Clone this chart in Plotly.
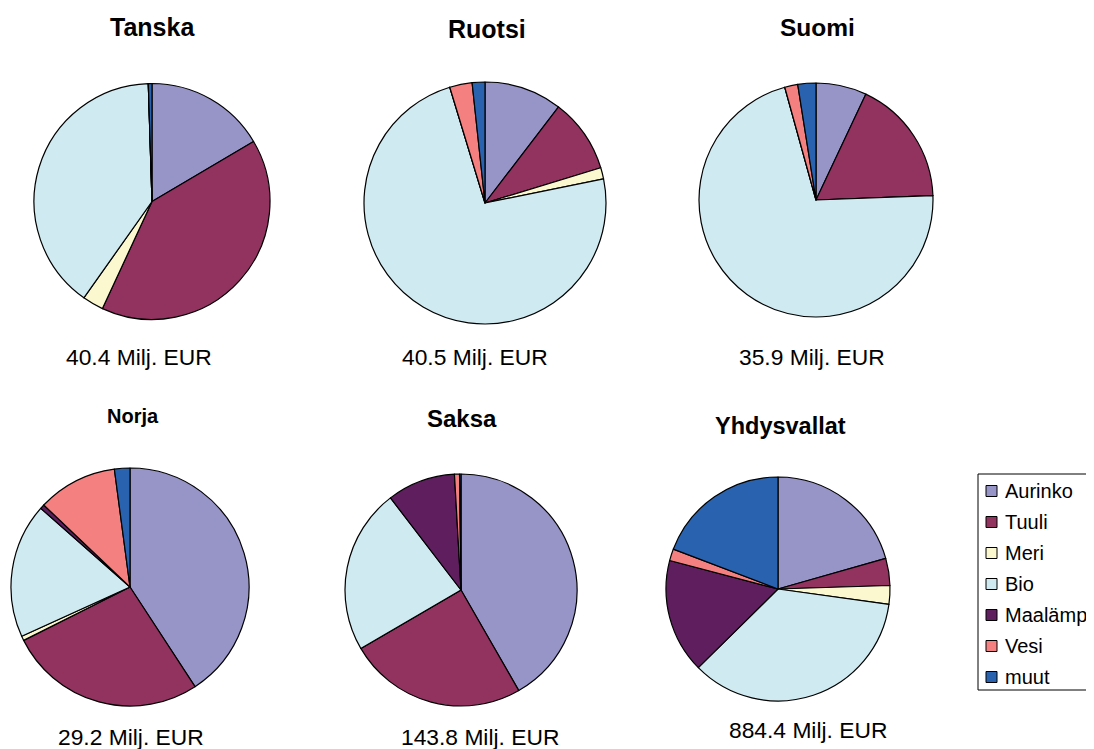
import plotly.graph_objects as go

WIN_W, WIN_H = 1094, 749
OFF = 8  # page body margin shifts the figure by this many pixels
W, H = WIN_W - OFF, WIN_H - OFF  # figure fills the rest of the window exactly

categories = ["Aurinko", "Tuuli", "Meri", "Bio", "Maalämpö", "Vesi", "muut"]
colors = ["#9794c8", "#92325f", "#fbf8cf", "#cfeaf0", "#5f1f5f", "#f48080", "#2962ae"]

countries = ["Tanska", "Ruotsi", "Suomi", "Norja", "Saksa", "Yhdysvallat"]
tanska = [16.5, 40.4, 2.9, 39.7, 0, 0, 0.5]
ruotsi = [10.4, 9.9, 1.5, 73.5, 0, 3.0, 1.7]
suomi = [7.0, 17.4, 0, 71.3, 0, 1.8, 2.5]
norja = [40.8, 26.8, 0.6, 18.3, 0.6, 10.8, 2.1]
saksa = [41.7, 24.9, 0, 23.0, 9.5, 0.7, 0.2]
yhdysvallat = [20.6, 3.9, 2.7, 35.4, 16.5, 1.7, 19.2]
series = [tanska, ruotsi, suomi, norja, saksa, yhdysvallat]
totals = [40.4, 40.5, 35.9, 29.2, 143.8, 884.4]

# layout (screen pixels): pie centre, radius, title pos/size, caption pos
pie_geom = [(152, 201.5, 118), (485, 203, 121), (816, 200, 117),
            (130, 587, 119), (461, 590, 116), (778, 589, 112)]
title_geom = [(152.5, 27, 25), (487, 29, 25), (817, 27, 24.5),
              (133, 416, 20), (462, 418, 24), (780, 426, 23.5)]
caption_geom = [(138.5, 357), (475, 357), (812, 357),
                (131, 737), (480, 737), (808, 730)]

FONT = "Arial, Liberation Sans, sans-serif"

def px_x(x):
    return (x - OFF) / W

def px_y(y):
    return 1 - (y - OFF) / H

fig = go.Figure()
annotations = []
shapes = []

for name, vals, (cx, cy, r), (tx, ty, ts), (lx, ly), tot in zip(
        countries, series, pie_geom, title_geom, caption_geom, totals):
    fig.add_trace(go.Pie(
        labels=categories, values=vals, sort=False, direction="clockwise",
        rotation=0, textinfo="none", hoverinfo="label+percent", showlegend=False,
        marker=dict(colors=colors, line=dict(color="#000000", width=1.2)),
        domain=dict(x=[px_x(cx - r), px_x(cx + r)],
                    y=[px_y(cy + r), px_y(cy - r)]),
        name=name,
    ))
    annotations.append(dict(x=px_x(tx), y=px_y(ty), xref="paper", yref="paper",
                            text=f"<b>{name}</b>", showarrow=False,
                            font=dict(family=FONT, size=ts, color="#000000"),
                            xanchor="center", yanchor="middle"))
    annotations.append(dict(x=px_x(lx), y=px_y(ly), xref="paper", yref="paper",
                            text=f"{tot:.1f} Milj. EUR", showarrow=False,
                            font=dict(family=FONT, size=22.8, color="#000000"),
                            xanchor="center", yanchor="middle"))

# manual legend (box runs off the right edge as in the reference: no right side)
lg_left, lg_top, lg_bottom, lg_right = 978, 474, 690, WIN_W + 40
border = dict(color="#000000", width=1)
for x0, y0, x1, y1 in [(lg_left, lg_top, lg_right, lg_top),
                       (lg_left, lg_bottom, lg_right, lg_bottom),
                       (lg_left, lg_top, lg_left, lg_bottom)]:
    shapes.append(dict(type="line", xref="paper", yref="paper",
                       x0=px_x(x0), y0=px_y(y0), x1=px_x(x1), y1=px_y(y1), line=border))
item_y = [491, 522, 553, 584, 615, 646, 677]
for cat, col, yy in zip(categories, colors, item_y):
    shapes.append(dict(type="rect", xref="paper", yref="paper",
                       x0=px_x(986), x1=px_x(997), y0=px_y(yy + 5.5), y1=px_y(yy - 5.5),
                       line=dict(color="#000000", width=1), fillcolor=col))
    annotations.append(dict(x=px_x(1003), y=px_y(yy), xref="paper", yref="paper",
                            text=cat, showarrow=False,
                            font=dict(family=FONT, size=20, color="#000000"),
                            xanchor="left", yanchor="middle"))

fig.update_layout(
    width=W, height=H,
    margin=dict(l=0, r=0, t=0, b=0, autoexpand=False),
    paper_bgcolor="#ffffff", plot_bgcolor="#ffffff",
    annotations=annotations, shapes=shapes,
    showlegend=False,
)

fig.write_html("out.html")
